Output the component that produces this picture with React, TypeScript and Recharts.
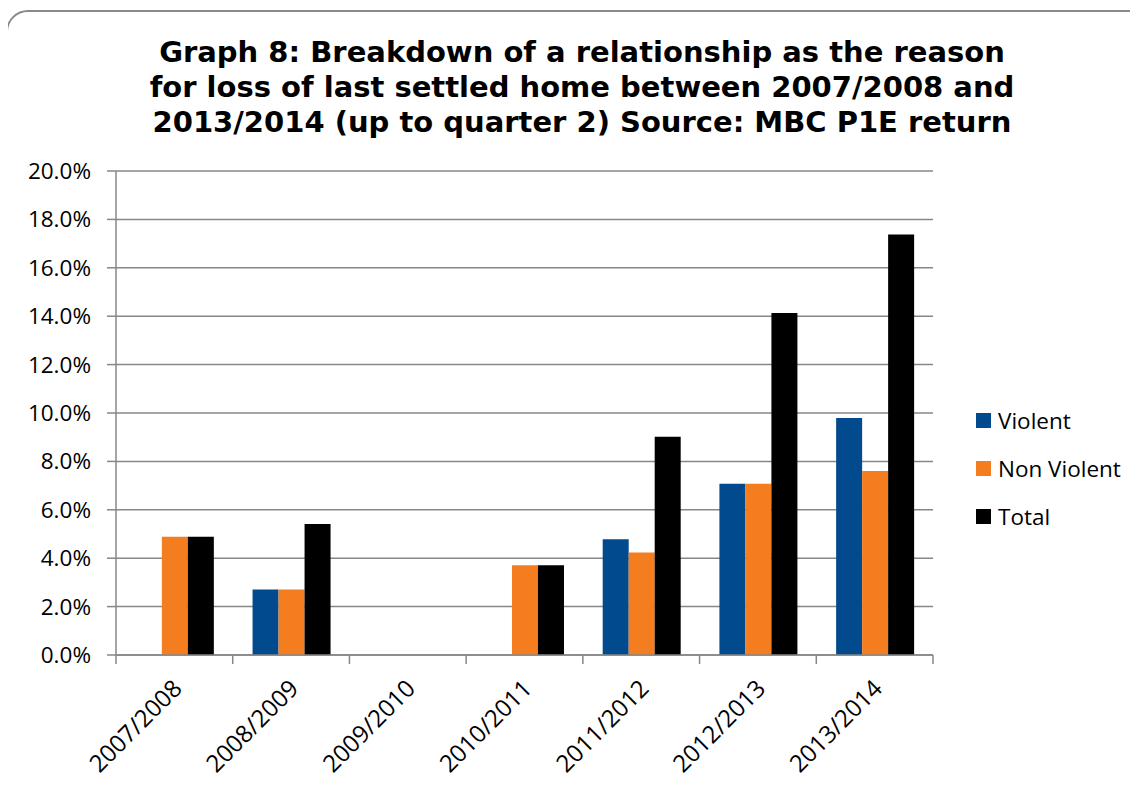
import React from "react";
import { BarChart, Bar, XAxis, YAxis, CartesianGrid, Legend } from "recharts";

const years = ["2007/2008", "2008/2009", "2009/2010", "2010/2011", "2011/2012", "2012/2013", "2013/2014"];
const violent = [0, 2.71, 0, 0, 4.78, 7.08, 9.79];
const nonViolent = [4.89, 2.71, 0, 3.71, 4.24, 7.08, 7.6];
const total = [4.89, 5.41, 0, 3.71, 9.02, 14.13, 17.38];
const yTicks = [0, 2, 4, 6, 8, 10, 12, 14, 16, 18, 20];
const titleLines = [
  "Graph 8: Breakdown of a relationship as the reason",
  "for loss of last settled home between 2007/2008 and",
  "2013/2014 (up to quarter 2) Source: MBC P1E return",
];

const series = [
  { key: "violent", name: "Violent", color: "#004a8d" },
  { key: "nonViolent", name: "Non Violent", color: "#f47d20" },
  { key: "total", name: "Total", color: "#000000" },
];

const data = years.map((y, i) => ({
  year: y,
  violent: violent[i],
  nonViolent: nonViolent[i],
  total: total[i],
}));

const GRID = "#878787";
const FONT = "'Open Sans', sans-serif";

const XTick = (props: any) => {
  const { x, y, payload, index, visibleTicksCount } = props;
  const half = payload && payload.offset ? payload.offset : 0;
  const isLast = index === (visibleTicksCount ?? years.length) - 1;
  return (
    <g transform={`translate(${x},${y})`}>
      <line x1={-half} y1={0} x2={-half} y2={9} stroke={GRID} strokeWidth={1.5} />
      {isLast && <line x1={half} y1={0} x2={half} y2={9} stroke={GRID} strokeWidth={1.5} />}
      <text
        x={9}
        y={35}
        textAnchor="end"
        transform="rotate(-45 9 35)"
        fontFamily={FONT}
        fontSize={24}
        fill="#000"
      >
        {payload.value}
      </text>
    </g>
  );
};

const renderLegend = () => (
  <div style={{ fontFamily: FONT, fontSize: 22.5, color: "#000" }}>
    {series.map((s) => (
      <div key={s.key} style={{ display: "flex", alignItems: "center", height: 48 }}>
        <span style={{ display: "inline-block", width: 15, height: 15, background: s.color, marginRight: 7 }} />
        <span>{s.name}</span>
      </div>
    ))}
  </div>
);

export default function App() {
  return (
    <div
      style={{
        position: "relative",
        width: 1138,
        height: 789,
        margin: -8,
        overflow: "hidden",
        background: "#fff",
      }}
    >
      <div
        style={{
          position: "absolute",
          left: 6,
          top: 10,
          width: 1200,
          height: 850,
          border: "2px solid #8a8a8a",
          borderRadius: 22,
          boxSizing: "border-box",
        }}
      />
      <div
        style={{
          position: "absolute",
          left: 82,
          top: 35,
          width: 1000,
          textAlign: "center",
          fontFamily: "'DejaVu Sans', Verdana, sans-serif",
          fontWeight: "bold",
          fontSize: 29,
          lineHeight: "35px",
          color: "#000",
        }}
      >
        {titleLines.map((l, i) => (
          <div key={i} style={{ whiteSpace: "nowrap" }}>{l}</div>
        ))}
      </div>
      <div style={{ position: "absolute", left: 0, top: 0 }}>
        <BarChart
          width={1138}
          height={789}
          data={data}
          margin={{ top: 171, right: 205, bottom: 0, left: 0 }}
          barGap={0}
          barCategoryGap="17%"
        >
          <CartesianGrid vertical={false} stroke={GRID} strokeWidth={1.5} xAxisId="cat" yAxisId="y" />
          <XAxis
            xAxisId="cat"
            dataKey="year"
            axisLine={{ stroke: GRID, strokeWidth: 1.5 }}
            tickLine={false}
            tickSize={0}
            tickMargin={0}
            tick={<XTick />}
            interval={0}
            height={134}
          />
          <YAxis
            yAxisId="y"
            domain={[0, 20]}
            ticks={yTicks}
            width={116}
            tickSize={9}
            tickMargin={16}
            tickFormatter={(v: number) => v.toFixed(1) + "%"}
            tick={{ fontFamily: FONT, fontSize: 22.5, fill: "#000" }}
            axisLine={{ stroke: GRID, strokeWidth: 1.5 }}
            tickLine={{ stroke: GRID, strokeWidth: 1.5 }}
            interval={0}
          />
          <Legend
            layout="vertical"
            align="center"
            verticalAlign="middle"
            content={renderLegend}
            wrapperStyle={{ left: 976, top: 396, width: 160 }}
          />
          {series.map((s) => (
            <Bar
              key={s.key}
              dataKey={s.key}
              name={s.name}
              fill={s.color}
              xAxisId="cat"
              yAxisId="y"
              isAnimationActive={false}
            />
          ))}
        </BarChart>
      </div>
    </div>
  );
}
